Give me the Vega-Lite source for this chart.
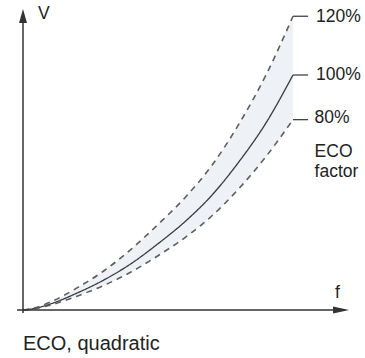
{
  "$schema": "https://vega.github.io/schema/vega-lite/v6.json",
  "width": 365,
  "height": 358,
  "autosize": {"type": "none"},
  "padding": 0,
  "config": {"view": {"stroke": null}, "font": "Liberation Sans"},
  "datasets": {
    "band": [
      {"f": 0, "lo": 0, "hi": 0},
      {"f": 0.05, "lo": 0.0068, "hi": 0.011},
      {"f": 0.1, "lo": 0.0205, "hi": 0.033},
      {"f": 0.2, "lo": 0.059, "hi": 0.094},
      {"f": 0.3, "lo": 0.105, "hi": 0.167},
      {"f": 0.4, "lo": 0.1615, "hi": 0.258},
      {"f": 0.5, "lo": 0.231, "hi": 0.364},
      {"f": 0.6, "lo": 0.308, "hi": 0.478},
      {"f": 0.7, "lo": 0.401, "hi": 0.616},
      {"f": 0.8, "lo": 0.517, "hi": 0.792},
      {"f": 0.9, "lo": 0.653, "hi": 1.0},
      {"f": 1.0, "lo": 0.81, "hi": 1.25}
    ],
    "curves": [
      {"curve": "120%", "style": "dashed", "f": 0, "v": 0},
      {"curve": "120%", "style": "dashed", "f": 0.05, "v": 0.011},
      {"curve": "120%", "style": "dashed", "f": 0.1, "v": 0.033},
      {"curve": "120%", "style": "dashed", "f": 0.2, "v": 0.094},
      {"curve": "120%", "style": "dashed", "f": 0.3, "v": 0.167},
      {"curve": "120%", "style": "dashed", "f": 0.4, "v": 0.258},
      {"curve": "120%", "style": "dashed", "f": 0.5, "v": 0.364},
      {"curve": "120%", "style": "dashed", "f": 0.6, "v": 0.478},
      {"curve": "120%", "style": "dashed", "f": 0.7, "v": 0.616},
      {"curve": "120%", "style": "dashed", "f": 0.8, "v": 0.792},
      {"curve": "120%", "style": "dashed", "f": 0.9, "v": 1.0},
      {"curve": "120%", "style": "dashed", "f": 1.0, "v": 1.25},
      {"curve": "100%", "style": "solid", "f": 0, "v": 0},
      {"curve": "100%", "style": "solid", "f": 0.05, "v": 0.0083},
      {"curve": "100%", "style": "solid", "f": 0.1, "v": 0.025},
      {"curve": "100%", "style": "solid", "f": 0.2, "v": 0.072},
      {"curve": "100%", "style": "solid", "f": 0.3, "v": 0.128},
      {"curve": "100%", "style": "solid", "f": 0.4, "v": 0.197},
      {"curve": "100%", "style": "solid", "f": 0.5, "v": 0.282},
      {"curve": "100%", "style": "solid", "f": 0.6, "v": 0.376},
      {"curve": "100%", "style": "solid", "f": 0.7, "v": 0.489},
      {"curve": "100%", "style": "solid", "f": 0.8, "v": 0.631},
      {"curve": "100%", "style": "solid", "f": 0.9, "v": 0.796},
      {"curve": "100%", "style": "solid", "f": 1.0, "v": 1.0},
      {"curve": "80%", "style": "dashed", "f": 0, "v": 0},
      {"curve": "80%", "style": "dashed", "f": 0.05, "v": 0.0068},
      {"curve": "80%", "style": "dashed", "f": 0.1, "v": 0.0205},
      {"curve": "80%", "style": "dashed", "f": 0.2, "v": 0.059},
      {"curve": "80%", "style": "dashed", "f": 0.3, "v": 0.105},
      {"curve": "80%", "style": "dashed", "f": 0.4, "v": 0.1615},
      {"curve": "80%", "style": "dashed", "f": 0.5, "v": 0.231},
      {"curve": "80%", "style": "dashed", "f": 0.6, "v": 0.308},
      {"curve": "80%", "style": "dashed", "f": 0.7, "v": 0.401},
      {"curve": "80%", "style": "dashed", "f": 0.8, "v": 0.517},
      {"curve": "80%", "style": "dashed", "f": 0.9, "v": 0.653},
      {"curve": "80%", "style": "dashed", "f": 1.0, "v": 0.81}
    ],
    "ticks": [
      {"f": 1.0, "f2": 1.056, "v": 1.25},
      {"f": 1.0, "f2": 1.056, "v": 1.0},
      {"f": 1.0, "f2": 1.056, "v": 0.81}
    ],
    "axes": [
      {"f": 0, "f2": 0, "v": -0.013, "v2": 1.23},
      {"f": -0.022, "f2": 1.17, "v": 0, "v2": 0}
    ],
    "arrows": [
      {"f": 0, "v": 1.251, "dir": "up"},
      {"f": 1.178, "v": 0, "dir": "right"}
    ],
    "labels": [
      {"f": 1.085, "v": 1.245, "text": "120%"},
      {"f": 1.085, "v": 1.0, "text": "100%"},
      {"f": 1.08, "v": 0.815, "text": "80%"},
      {"f": 1.08, "v": 0.672, "text": "ECO"},
      {"f": 1.08, "v": 0.587, "text": "factor"},
      {"f": 0.056, "v": 1.26, "text": "V"},
      {"f": 1.156, "v": 0.072, "text": "f"}
    ],
    "caption": [
      {"f": 0.0, "v": -0.145, "text": "ECO, quadratic"}
    ]
  },
  "layer": [
    {
      "data": {"name": "band"},
      "mark": {"type": "area", "color": "#eef1f5", "interpolate": "monotone"},
      "encoding": {
        "x": {"field": "f", "type": "quantitative", "scale": {"domain": [-0.08519, 1.26667], "nice": false, "zero": false}, "axis": null},
        "y": {"field": "hi", "type": "quantitative", "scale": {"domain": [-0.20426, 1.31915], "nice": false, "zero": false}, "axis": null},
        "y2": {"field": "lo"}
      }
    },
    {
      "data": {"name": "curves"},
      "mark": {"type": "line", "interpolate": "monotone"},
      "encoding": {
        "x": {"field": "f", "type": "quantitative", "scale": {"domain": [-0.08519, 1.26667], "nice": false, "zero": false}, "axis": null},
        "y": {"field": "v", "type": "quantitative", "scale": {"domain": [-0.20426, 1.31915], "nice": false, "zero": false}, "axis": null},
        "detail": {"field": "curve"},
        "strokeDash": {"field": "style", "type": "nominal", "scale": {"domain": ["solid", "dashed"], "range": [[1, 0], [6, 5]]}, "legend": null},
        "strokeWidth": {"field": "style", "type": "nominal", "scale": {"domain": ["solid", "dashed"], "range": [1.3, 1.6]}, "legend": null},
        "color": {"field": "style", "type": "nominal", "scale": {"domain": ["solid", "dashed"], "range": ["#3a3a3a", "#5e5e5e"]}, "legend": null}
      }
    },
    {
      "data": {"name": "ticks"},
      "mark": {"type": "rule", "color": "#444444", "strokeWidth": 1.3},
      "encoding": {
        "x": {"field": "f", "type": "quantitative", "scale": {"domain": [-0.08519, 1.26667], "nice": false, "zero": false}, "axis": null},
        "x2": {"field": "f2"},
        "y": {"field": "v", "type": "quantitative", "scale": {"domain": [-0.20426, 1.31915], "nice": false, "zero": false}, "axis": null}
      }
    },
    {
      "data": {"name": "axes"},
      "mark": {"type": "rule", "color": "#333333", "strokeWidth": 1.5},
      "encoding": {
        "x": {"field": "f", "type": "quantitative", "scale": {"domain": [-0.08519, 1.26667], "nice": false, "zero": false}, "axis": null},
        "x2": {"field": "f2"},
        "y": {"field": "v", "type": "quantitative", "scale": {"domain": [-0.20426, 1.31915], "nice": false, "zero": false}, "axis": null},
        "y2": {"field": "v2"}
      }
    },
    {
      "data": {"name": "arrows"},
      "mark": {"type": "point", "filled": true, "color": "#333333", "opacity": 1},
      "encoding": {
        "x": {"field": "f", "type": "quantitative", "scale": {"domain": [-0.08519, 1.26667], "nice": false, "zero": false}, "axis": null},
        "y": {"field": "v", "type": "quantitative", "scale": {"domain": [-0.20426, 1.31915], "nice": false, "zero": false}, "axis": null},
        "shape": {"field": "dir", "type": "nominal", "scale": {"domain": ["up", "right"], "range": ["M0,-1L0.57,1L-0.57,1Z", "M1,0L-1,0.45L-1,-0.45Z"]}, "legend": null},
        "size": {"field": "dir", "type": "nominal", "scale": {"domain": ["up", "right"], "range": [196, 256]}, "legend": null}
      }
    },
    {
      "data": {"name": "labels"},
      "mark": {"type": "text", "align": "left", "baseline": "middle", "color": "#222222", "fontSize": 17.5},
      "encoding": {
        "x": {"field": "f", "type": "quantitative", "scale": {"domain": [-0.08519, 1.26667], "nice": false, "zero": false}, "axis": null},
        "y": {"field": "v", "type": "quantitative", "scale": {"domain": [-0.20426, 1.31915], "nice": false, "zero": false}, "axis": null},
        "text": {"field": "text"}
      }
    },
    {
      "data": {"name": "caption"},
      "mark": {"type": "text", "align": "left", "baseline": "middle", "color": "#222222", "fontSize": 20},
      "encoding": {
        "x": {"field": "f", "type": "quantitative", "scale": {"domain": [-0.08519, 1.26667], "nice": false, "zero": false}, "axis": null},
        "y": {"field": "v", "type": "quantitative", "scale": {"domain": [-0.20426, 1.31915], "nice": false, "zero": false}, "axis": null},
        "text": {"field": "text"}
      }
    }
  ]
}
